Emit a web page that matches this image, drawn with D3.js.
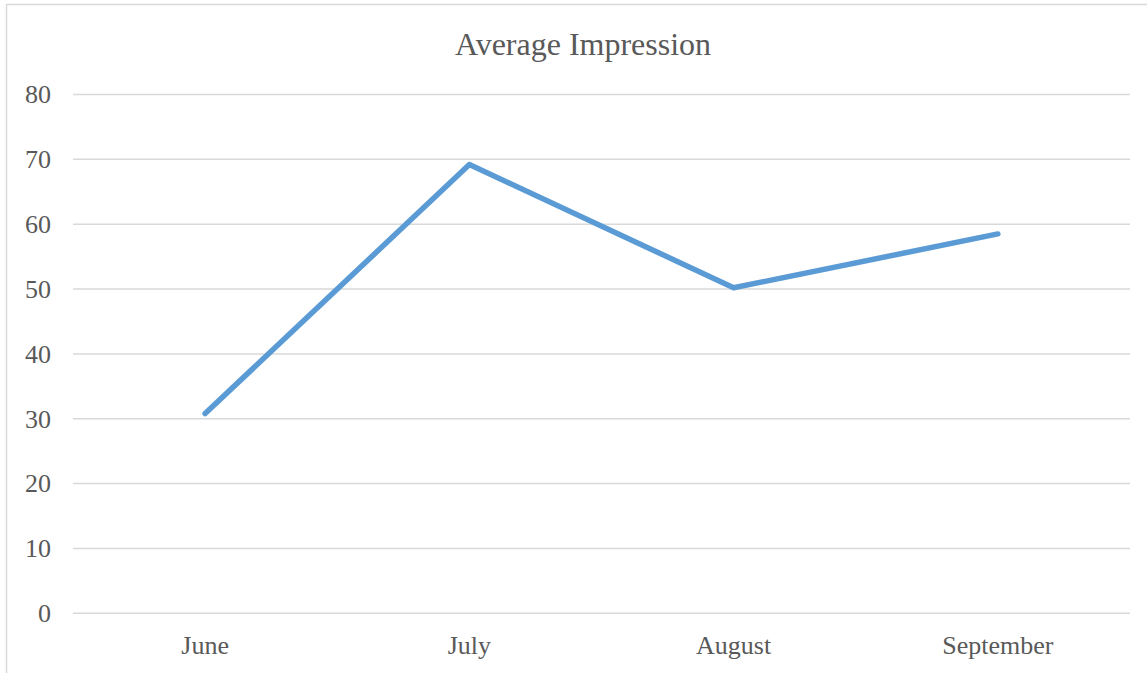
<!DOCTYPE html>
<html>
<head>
<meta charset="utf-8">
<script src="https://cdn.jsdelivr.net/npm/d3@7"></script>
<style>
  body { margin: 0; background: #fff; }
  svg { display: block; font-family: "Liberation Serif", "Times New Roman", serif; }
</style>
</head>
<body>
<svg id="chart" width="1147" height="673"></svg>
<script>
// data
const months = ['June', 'July', 'August', 'September'];
const impressions = [30.8, 69.2, 50.2, 58.5];
const yTicks = [0, 10, 20, 30, 40, 50, 60, 70, 80];

const width = 1147, height = 673;
const margin = { top: 94.5, right: 17, bottom: 60, left: 73 };

const svg = d3.select('#chart');

// chart border (bottom runs off the picture)
svg.append('rect')
  .attr('x', 6.5)
  .attr('y', 4.5)
  .attr('width', 1160)
  .attr('height', 700)
  .attr('fill', 'none')
  .attr('stroke', '#d9d9d9')
  .attr('stroke-width', 1.5);

const x = d3.scaleBand()
  .domain(months)
  .range([margin.left, width - margin.right]);

const y = d3.scaleLinear()
  .domain([0, 80])
  .range([613.3, margin.top]);

// gridlines
svg.append('g')
  .attr('class', 'grid')
  .selectAll('line')
  .data(yTicks)
  .join('line')
  .attr('x1', margin.left)
  .attr('x2', width - margin.right)
  .attr('y1', d => y(d))
  .attr('y2', d => y(d))
  .attr('stroke', '#d9d9d9')
  .attr('stroke-width', 1.5);

// y axis labels
const yAxis = d3.axisLeft(y)
  .tickValues(yTicks)
  .tickSize(0)
  .tickPadding(0);

svg.append('g')
  .attr('transform', 'translate(51,0)')
  .call(yAxis)
  .call(g => g.select('.domain').remove())
  .selectAll('text')
  .attr('fill', '#595959')
  .attr('font-size', 26)
  .attr('font-family', '"Liberation Serif", serif');

// x axis labels
const xAxis = d3.axisBottom(x)
  .tickSize(0)
  .tickPadding(0);

svg.append('g')
  .attr('transform', 'translate(0,636)')
  .call(xAxis)
  .call(g => g.select('.domain').remove())
  .selectAll('text')
  .attr('fill', '#595959')
  .attr('font-size', 26)
  .attr('font-family', '"Liberation Serif", serif');

// series line
const line = d3.line()
  .x((d, i) => x(months[i]) + x.bandwidth() / 2)
  .y(d => y(d));

svg.append('path')
  .datum(impressions)
  .attr('fill', 'none')
  .attr('stroke', '#5b9bd5')
  .attr('stroke-width', 5.5)
  .attr('stroke-linecap', 'round')
  .attr('stroke-linejoin', 'round')
  .attr('d', line);

// title
svg.append('text')
  .attr('x', 583)
  .attr('y', 55)
  .attr('text-anchor', 'middle')
  .attr('fill', '#595959')
  .attr('font-size', 32)
  .text('Average Impression');
</script>
</body>
</html>
